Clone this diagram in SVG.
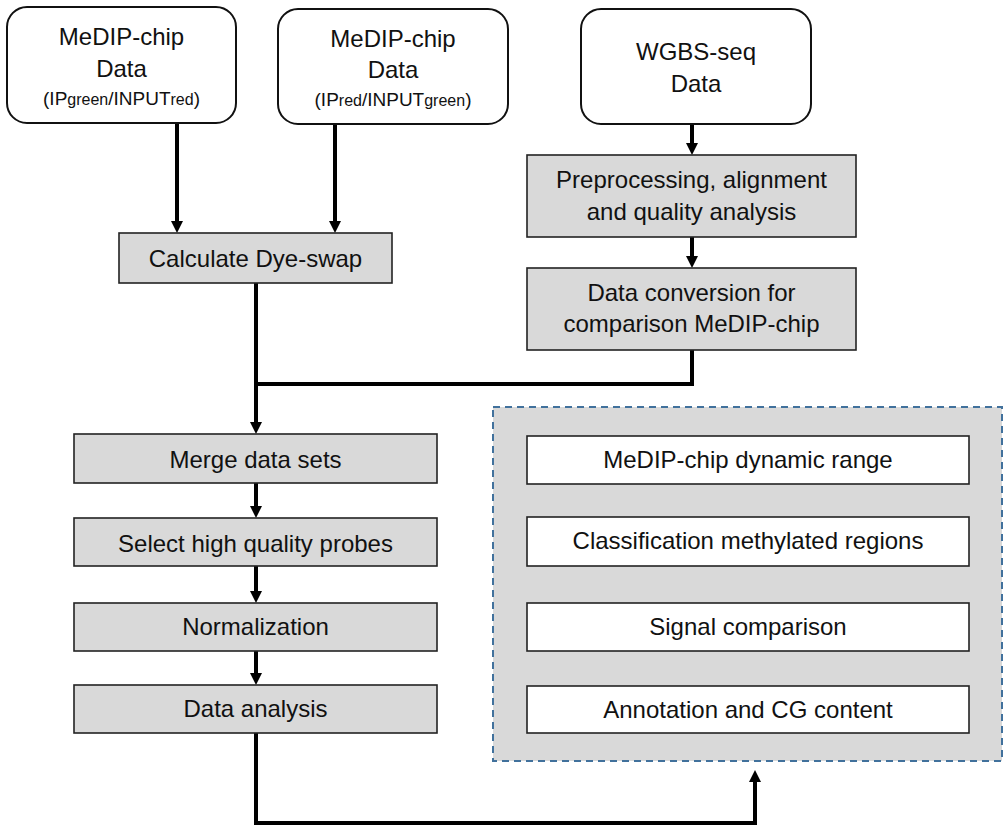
<svg xmlns="http://www.w3.org/2000/svg" width="1003" height="825" viewBox="0 0 1003 825">
<defs>
<marker id="ah" viewBox="0 0 12 12" markerWidth="12" markerHeight="12" markerUnits="userSpaceOnUse" refX="6" refY="6" orient="auto">
<path d="M0,0 L12,6 L0,12 Z" fill="#000"/>
</marker>
</defs>
<style>
text{font-family:"Liberation Sans",Arial,sans-serif;font-size:24px;fill:#111;text-anchor:middle}
.src{fill:#fff;stroke:#111;stroke-width:2}
.proc{fill:#d9d9d9;stroke:#222;stroke-width:1.6}
.res{fill:#fff;stroke:#222;stroke-width:1.6}
.con{fill:none;stroke:#000;stroke-width:4}
.arr{marker-end:url(#ah)}
.small{font-size:19px}
.sub{font-size:16px}
</style>
<rect width="1003" height="825" fill="#fff"/>

<g id="group-results">
<rect x="493" y="407" width="509" height="354" fill="#d9d9d9" stroke="#41719c" stroke-width="2" stroke-dasharray="7,5"/>
</g>

<g id="connectors">
<line class="con arr" x1="177" y1="123" x2="177" y2="227"/>
<line class="con arr" x1="335" y1="124" x2="335" y2="227"/>
<line class="con arr" x1="692" y1="124" x2="692" y2="149"/>
<line class="con arr" x1="692" y1="237" x2="692" y2="262"/>
<polyline class="con" points="692,350 692,384 256,384"/>
<line class="con arr" x1="256" y1="283" x2="256" y2="428"/>
<line class="con arr" x1="256" y1="483" x2="256" y2="512"/>
<line class="con arr" x1="256" y1="566" x2="256" y2="597"/>
<line class="con arr" x1="256" y1="651" x2="256" y2="679"/>
<polyline class="con arr" points="256,733 256,823 755,823 755,776"/>
</g>

<g id="src1">
<rect class="src" x="7" y="7" width="229" height="116" rx="20"/>
<text x="121.5" y="45">MeDIP-chip</text>
<text x="121.5" y="77">Data</text>
<text x="121.5" y="105" class="small">(IP<tspan class="sub">green</tspan>/INPUT<tspan class="sub">red</tspan>)</text>
</g>
<g id="src2">
<rect class="src" x="278" y="9" width="230" height="115" rx="20"/>
<text x="393" y="47">MeDIP-chip</text>
<text x="393" y="78">Data</text>
<text x="393" y="106" class="small">(IP<tspan class="sub">red</tspan>/INPUT<tspan class="sub">green</tspan>)</text>
</g>
<g id="src3">
<rect class="src" x="581" y="9" width="230" height="115" rx="20"/>
<text x="696" y="60">WGBS-seq</text>
<text x="696" y="92">Data</text>
</g>

<g id="dyeswap">
<rect class="proc" x="119" y="233" width="273" height="50"/>
<text x="255.5" y="267">Calculate Dye-swap</text>
</g>
<g id="preprocessing">
<rect class="proc" x="527" y="155" width="329" height="82"/>
<text x="691.5" y="188">Preprocessing, alignment</text>
<text x="691.5" y="220">and quality analysis</text>
</g>
<g id="conversion">
<rect class="proc" x="527" y="268" width="329" height="82"/>
<text x="691.5" y="301">Data conversion for</text>
<text x="691.5" y="332">comparison MeDIP-chip</text>
</g>
<g id="merge">
<rect class="proc" x="74" y="434" width="363" height="49"/>
<text x="255.5" y="468">Merge data sets</text>
</g>
<g id="select">
<rect class="proc" x="74" y="518" width="363" height="48"/>
<text x="255.5" y="552">Select high quality probes</text>
</g>
<g id="normalization">
<rect class="proc" x="74" y="603" width="363" height="48"/>
<text x="255.5" y="635">Normalization</text>
</g>
<g id="analysis">
<rect class="proc" x="74" y="685" width="363" height="48"/>
<text x="255.5" y="717">Data analysis</text>
</g>

<g id="dynamic-range">
<rect class="res" x="527" y="436" width="442" height="48"/>
<text x="748" y="468">MeDIP-chip dynamic range</text>
</g>
<g id="classification">
<rect class="res" x="527" y="517" width="442" height="49"/>
<text x="748" y="549">Classification methylated regions</text>
</g>
<g id="signal">
<rect class="res" x="527" y="603" width="442" height="48"/>
<text x="748" y="635">Signal comparison</text>
</g>
<g id="annotation">
<rect class="res" x="527" y="686" width="442" height="47"/>
<text x="748" y="718">Annotation and CG content</text>
</g>
</svg>
